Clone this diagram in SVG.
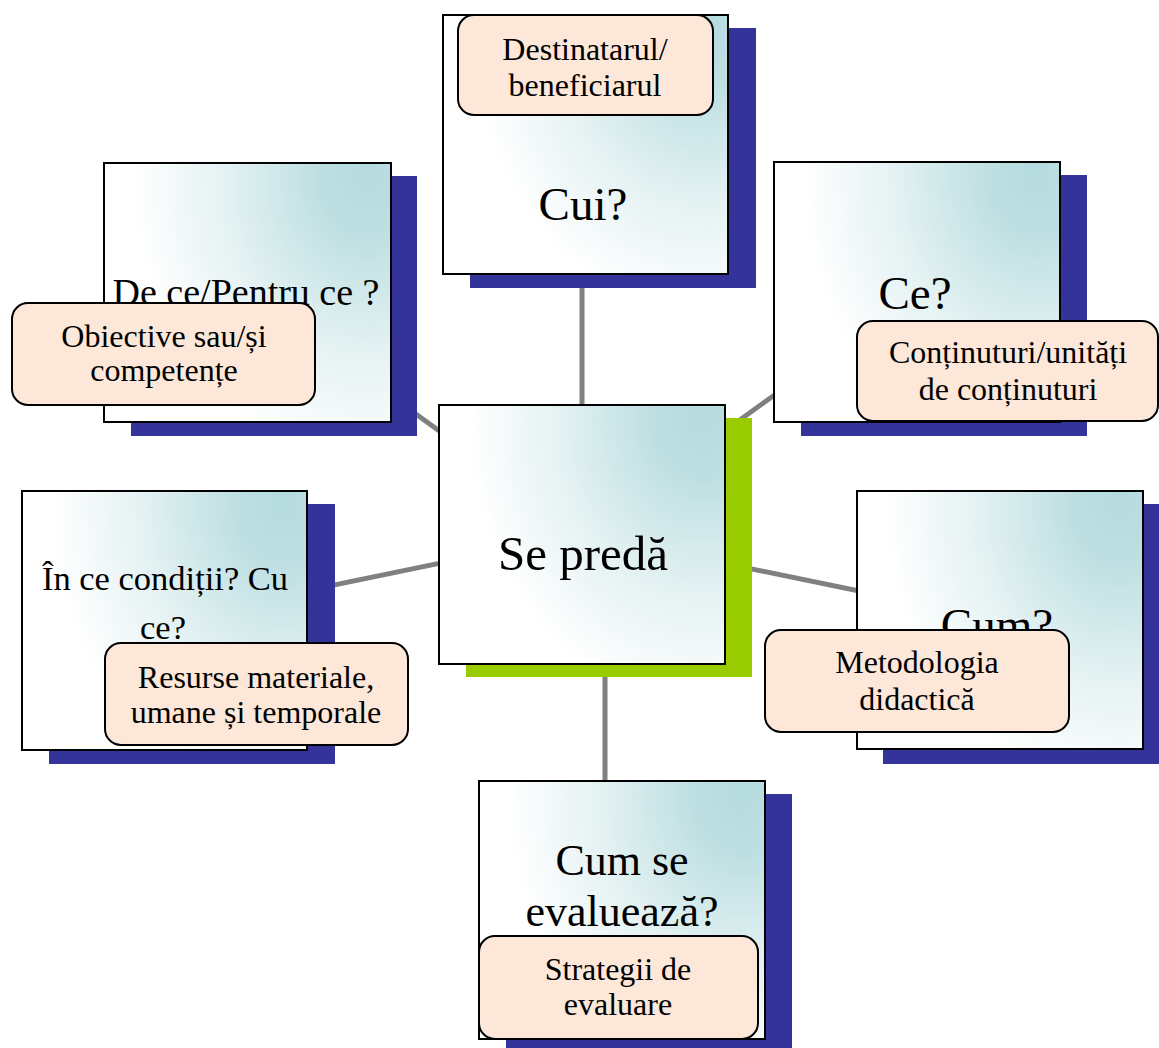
<svg xmlns="http://www.w3.org/2000/svg" width="1159" height="1048" viewBox="0 0 1159 1048">
<defs>
<radialGradient id="g" cx="0.92" cy="0.05" r="0.82" gradientTransform="translate(0.92 0.05) scale(1 1.35) translate(-0.92 -0.05)">
<stop offset="0" stop-color="#b5dbde"/>
<stop offset="0.2" stop-color="#bddfe2"/>
<stop offset="0.6" stop-color="#e3f1f2"/>
<stop offset="1" stop-color="#ffffff"/>
</radialGradient>
<style>
.sh{fill:#333399}
.shg{fill:#99cc00}
.bx{fill:url(#g);stroke:#000;stroke-width:2}
.lb{fill:#fce7d9;stroke:#000;stroke-width:2}
.t{font-family:"Liberation Serif","Times New Roman",serif;fill:#000;text-anchor:middle}
.q{font-size:47px}
.s{font-size:32px}
.cn{stroke:#808080;stroke-width:5;fill:none}
</style>
</defs>
<rect width="1159" height="1048" fill="#fff"/>
<g id="connectors">
<line class="cn" x1="582" y1="534" x2="582" y2="144"/>
<line class="cn" x1="582" y1="534" x2="247" y2="292"/>
<line class="cn" x1="582" y1="534" x2="917" y2="292"/>
<line class="cn" x1="582" y1="534" x2="164" y2="620"/>
<line class="cn" x1="582" y1="534" x2="1000" y2="620"/>
<line class="cn" x1="605" y1="534" x2="605" y2="910"/>
</g>
<g id="node-cui">
<rect class="sh" x="470" y="28" width="286" height="260"/>
<rect class="bx" x="443" y="15" width="285" height="259"/>
<text class="t q" x="583" y="220">Cui?</text>
<rect class="lb" x="458" y="15" width="255" height="100" rx="16"/>
<text class="t s" x="585" y="60">Destinatarul/</text>
<text class="t s" x="585" y="96">beneficiarul</text>
</g>
<g id="node-dece">
<rect class="sh" x="131" y="176" width="286" height="260"/>
<rect class="bx" x="104" y="163" width="287" height="259"/>
<text class="t" style="font-size:38px" x="246" y="305">De ce/Pentru ce ?</text>
<rect class="lb" x="12" y="303" width="303" height="102" rx="16"/>
<text class="t s" x="164" y="347">Obiective sau/și</text>
<text class="t s" x="164" y="381">competențe</text>
</g>
<g id="node-ce">
<rect class="sh" x="801" y="175" width="286" height="261"/>
<rect class="bx" x="774" y="162" width="286" height="260"/>
<text class="t q" x="915" y="309">Ce?</text>
<rect class="lb" x="857" y="321" width="301" height="100" rx="16"/>
<text class="t s" x="1008" y="363">Conținuturi/unități</text>
<text class="t s" x="1008" y="400">de conținuturi</text>
</g>
<g id="node-center">
<rect class="shg" x="466" y="418" width="286" height="259"/>
<rect class="bx" x="439" y="405" width="286" height="259"/>
<text class="t" style="font-size:49px" x="583" y="570">Se predă</text>
</g>
<g id="node-conditii">
<rect class="sh" x="49" y="504" width="286" height="260"/>
<rect class="bx" x="22" y="491" width="285" height="259"/>
<text class="t" style="font-size:34.5px" x="165" y="590">În ce condiții? Cu</text>
<text class="t" style="font-size:34.5px" x="163" y="639">ce?</text>
<rect class="lb" x="105" y="643" width="303" height="102" rx="16"/>
<text class="t s" x="256" y="688">Resurse materiale,</text>
<text class="t s" x="256" y="723">umane și temporale</text>
</g>
<g id="node-cum">
<rect class="sh" x="883" y="504" width="286" height="260"/>
<rect class="bx" x="857" y="491" width="286" height="258"/>
<text class="t" style="font-size:47px" x="997" y="641">Cum?</text>
<rect class="lb" x="765" y="630" width="304" height="102" rx="16"/>
<text class="t s" x="917" y="673">Metodologia</text>
<text class="t s" x="917" y="710">didactică</text>
</g>
<g id="node-evaluare">
<rect class="sh" x="506" y="794" width="286" height="260"/>
<rect class="bx" x="479" y="781" width="286" height="258"/>
<text class="t" style="font-size:44px" x="622" y="875">Cum se</text>
<text class="t" style="font-size:44px" x="622" y="926">evaluează?</text>
<rect class="lb" x="479" y="936" width="279" height="103" rx="16"/>
<text class="t s" x="618" y="980">Strategii de</text>
<text class="t s" x="618" y="1015">evaluare</text>
</g>
</svg>
